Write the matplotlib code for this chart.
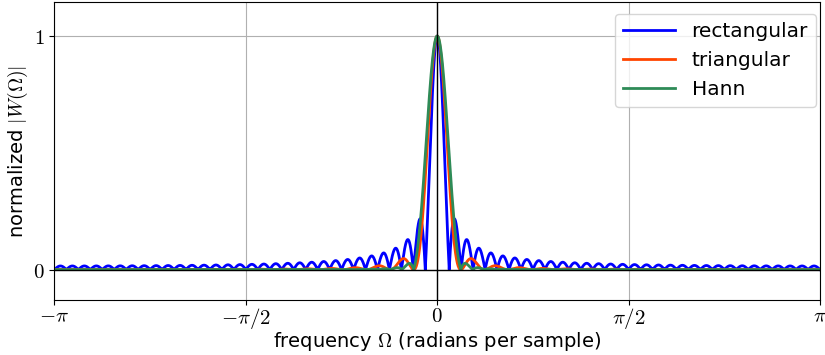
import numpy as np
import matplotlib
matplotlib.use("Agg")
from matplotlib import pyplot as plt

plt.rcParams['mathtext.fontset'] = 'cm'

# window length and window shapes (the plotted curves are their spectra)
N = 64
names = ["rectangular", "triangular", "Hann"]
colors = ["#0000ff", "#ff4500", "#2e8b57"]
windows = [np.ones(N), np.bartlett(N + 2)[1:-1], np.hanning(N + 2)[1:-1]]

xticks = [-np.pi, -np.pi / 2, 0, np.pi / 2, np.pi]
xticklabels = [r"$-\pi$", r"$-\pi/2$", r"$0$", r"$\pi/2$", r"$\pi$"]

nfft = 8192
fig, ax = plt.subplots(figsize=(8.25, 3.55), dpi=100)
for w, name, c in zip(windows, names, colors):
    W = np.fft.fftshift(np.abs(np.fft.fft(w, nfft)))
    om = np.fft.fftshift(np.fft.fftfreq(nfft)) * 2 * np.pi
    ax.plot(om, W / W.max(), color=c, lw=2, label=name)

ax.axhline(0, color="k", lw=1)
ax.axvline(0, color="k", lw=1)
ax.grid(True, color="#b0b0b0", lw=0.8)
ax.set_xlim(-np.pi, np.pi)
ax.set_ylim(-0.13, 1.145)
ax.set_xticks(xticks)
ax.set_xticklabels(xticklabels, fontsize=15)
ax.set_yticks([0, 1])
ax.set_yticklabels([r"$0$", r"$1$"], fontsize=15)
ax.tick_params(axis="x", pad=1)
ax.set_xlabel(r"frequency $\Omega$ (radians per sample)", fontsize=14, labelpad=-1)
ax.set_ylabel(r"normalized $|W(\Omega)|$", fontsize=14, labelpad=2)
ax.legend(loc="upper right", fontsize=14.5, handlelength=2.6,
          borderaxespad=0.2, bbox_to_anchor=(1.0, 0.973))

plt.subplots_adjust(left=0.066, right=0.994, top=0.994, bottom=0.155)
plt.savefig("out.png")
